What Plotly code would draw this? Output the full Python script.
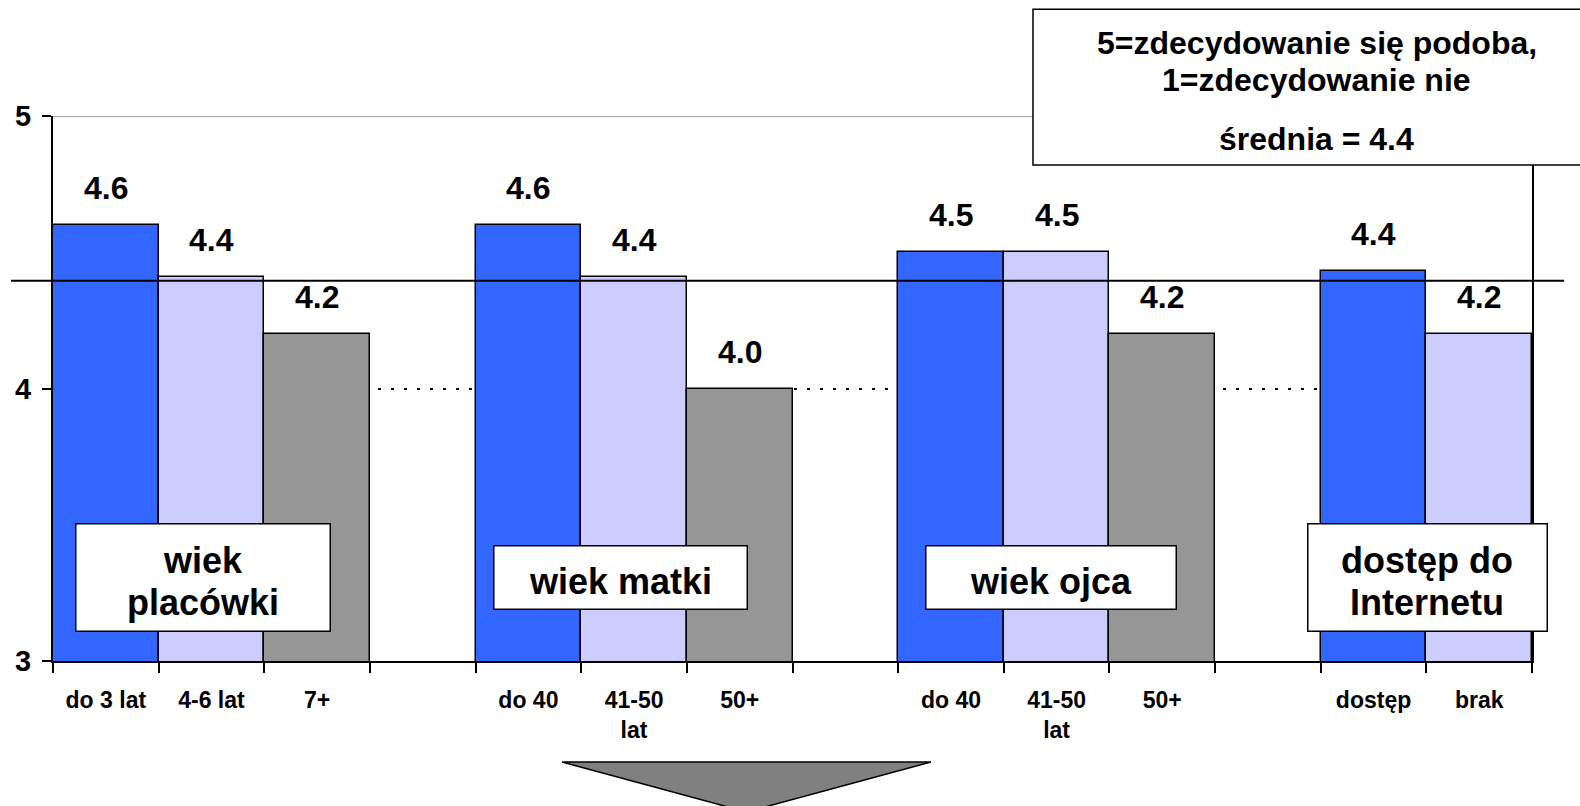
"""Bar chart: mean rating by age of centre, parents' age and internet access."""

import plotly.graph_objects as go

# data
categories = ["do 3 lat", "4-6 lat", "7+", "",
              "do 40", "41-50<br>lat", "50+", " ",
              "do 40", "41-50<br>lat", "50+", "  ",
              "dostęp", "brak"]
values = [4.6, 4.41, 4.2, None,
          4.6, 4.41, 4.0, None,
          4.5, 4.5, 4.2, None,
          4.43, 4.2]
group_labels = [["wiek", "placówki"], ["wiek matki"], ["wiek ojca"], ["dostęp do", "Internetu"]]
group_members = [[0, 1, 2], [4, 5, 6], [8, 9, 10], [12, 13]]
average = 4.395
scale_note = ["5=zdecydowanie się podoba,", "1=zdecydowanie nie"]

# styles
BLUE, LILAC, GREY = "#3366FF", "#CCCCFF", "#969696"
bar_colors = [BLUE, LILAC, GREY, GREY, BLUE, LILAC, GREY, GREY,
              BLUE, LILAC, GREY, GREY, BLUE, LILAC]
FONT = "Liberation Sans, Arial, sans-serif"
label_shift = [-8, -14, -6, 1]
label_height = [104, 60, 60, 104]
label_width = [251, 250, 247, 236]
LINE_GAP = 42
TEXT_DY = -4

x = list(range(len(categories)))

fig = go.Figure(
    go.Bar(
        x=x,
        y=values,
        width=1.0,
        marker=dict(color=bar_colors, line=dict(color="black", width=1.5)),
        hoverinfo="skip",
    )
)

for i, v in enumerate(values):
    if v is None:
        continue
    fig.add_annotation(
        x=i, y=v, text=f"{v:.1f}", showarrow=False, yanchor="bottom", yshift=17,
        font=dict(size=32, color="black", family=FONT, weight="bold"),
    )

for lines, members, dx, h, w in zip(group_labels, group_members, label_shift,
                                    label_height, label_width):
    centre = sum(members) / len(members)
    # white framed box
    fig.add_annotation(
        x=centre, y=3.305, text=" ", showarrow=False, xshift=dx,
        bgcolor="white", bordercolor="black", borderwidth=1.5, borderpad=1,
        width=w, height=h,
    )
    n = len(lines)
    for k, line in enumerate(lines):
        fig.add_annotation(
            x=centre, y=3.305, text=line, showarrow=False, xshift=dx,
            yshift=((n - 1) / 2 - k) * LINE_GAP + TEXT_DY,
            font=dict(size=36, color="black", family=FONT, weight="bold"),
        )

# average line
fig.add_shape(type="line", xref="paper", yref="y", x0=-0.0284, x1=1.0217,
              y0=average, y1=average, line=dict(color="black", width=2), layer="above")
# top border of the plot area
fig.add_shape(type="line", xref="paper", yref="y", x0=0, x1=1, y0=5, y1=5,
              line=dict(color="#888888", width=1.5), layer="below")
# note box in the top right
fig.add_shape(type="rect", xref="paper", yref="paper", x0=0.6626, x1=1.06,
              y0=0.910, y1=1.196, fillcolor="white",
              line=dict(color="black", width=1.5), layer="above")
for txt, yy in zip(scale_note + [f"średnia = {average:.1f}"], [1.134, 1.066, 0.958]):
    fig.add_annotation(
        xref="paper", yref="paper", x=0.8546, y=yy, text=txt, showarrow=False,
        xanchor="center", yanchor="middle",
        font=dict(size=32, color="black", family=FONT, weight="bold"),
    )
# arrow pointing down
fig.add_shape(type="path", xref="paper", yref="paper",
              path="M 0.3442 -0.1853 L 0.5936 -0.1853 L 0.4689 -0.277 Z",
              fillcolor="#808080", line=dict(color="black", width=1.5))

fig.update_layout(
    width=1580, height=806,
    margin=dict(l=53, r=48, t=116, b=145),
    plot_bgcolor="white", paper_bgcolor="white",
    font=dict(family=FONT, color="black", weight="bold"),
    bargap=0, showlegend=False,
    xaxis=dict(
        range=[-0.5, len(categories) - 0.5], tickvals=x, ticktext=categories,
        ticks="", showgrid=False, zeroline=False,
        showline=True, linecolor="black", linewidth=2,
        tickfont=dict(size=23, family=FONT, weight="bold"),
        ticklabelstandoff=17,
        minor=dict(tickvals=[i - 0.5 for i in range(len(categories) + 1)],
                   ticks="outside", ticklen=10, tickwidth=1.5, tickcolor="black",
                   showgrid=False),
    ),
    yaxis=dict(
        range=[3, 5], tickvals=[3, 4, 5], ticks="outside", ticklen=9,
        tickwidth=1.5, tickcolor="black",
        showline=True, linecolor="black", linewidth=2, mirror=True,
        showgrid=True, gridcolor="black", gridwidth=1.5, griddash="3px,10px",
        zeroline=False,
        tickfont=dict(size=29, family=FONT, weight="bold"),
        ticklabelstandoff=5,
    ),
)

fig.write_html("out.html", config={"displayModeBar": False},
               post_script="document.body.style.margin='0';")
